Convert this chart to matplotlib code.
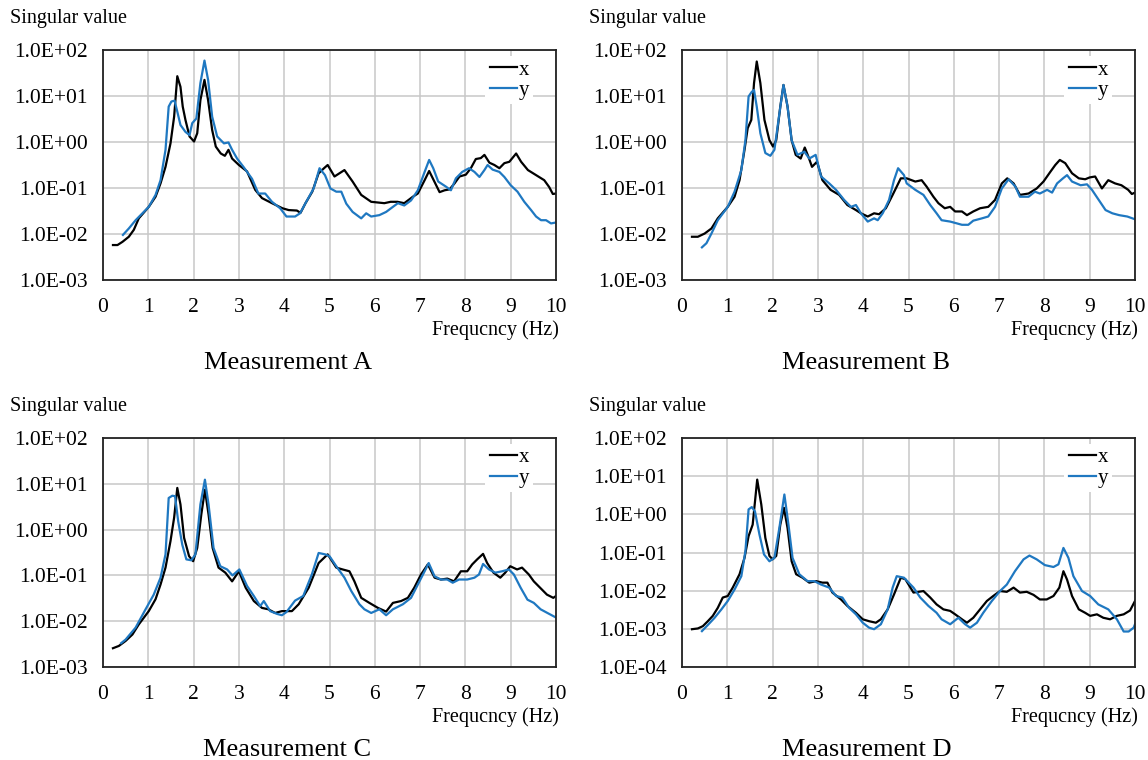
import numpy as np
import matplotlib
matplotlib.use('Agg')
import matplotlib.pyplot as plt
from matplotlib.ticker import FixedLocator, FuncFormatter

plt.rcParams['font.family'] = ['Liberation Serif', 'DejaVu Serif']

### data: frequency (Hz) and log10(singular value)

# Measurement A
a_x_f = [0.22, 0.32, 0.43, 0.57, 0.68, 0.79, 1.01, 1.16, 1.27, 1.38, 1.49, 1.57, 1.64, 1.71, 1.76, 1.82,
         1.91, 2.01, 2.08, 2.15, 2.24, 2.32, 2.41, 2.49, 2.60, 2.69, 2.77, 2.85, 3.00, 3.18, 3.36, 3.51,
         3.73, 3.96, 4.10, 4.28, 4.36, 4.47, 4.62, 4.76, 4.89, 4.96, 5.11, 5.33, 5.51, 5.70, 5.92, 6.21,
         6.35, 6.50, 6.65, 6.84, 6.95, 7.10, 7.20, 7.30, 7.43, 7.54, 7.65, 7.76, 7.87, 8.01, 8.12, 8.23,
         8.34, 8.42, 8.53, 8.64, 8.75, 8.86, 8.97, 9.12, 9.23, 9.38, 9.56, 9.74, 9.85, 9.93, 10.0]
a_x_v = [-2.24, -2.24, -2.17, -2.06, -1.91, -1.66, -1.41, -1.19, -0.90, -0.54, -0.03, 0.55, 1.43, 1.20, 0.77, 0.48,
         0.12, 0.01, 0.19, 0.91, 1.35, 0.91, 0.26, -0.10, -0.25, -0.30, -0.17, -0.36, -0.50, -0.64, -1.04, -1.22,
         -1.33, -1.44, -1.48, -1.49, -1.54, -1.33, -1.08, -0.68, -0.56, -0.50, -0.75, -0.61, -0.86, -1.15, -1.30, -1.33,
         -1.30, -1.30, -1.33, -1.19, -1.12, -0.83, -0.63, -0.83, -1.09, -1.05, -1.03, -0.90, -0.75, -0.71, -0.57, -0.37,
         -0.35, -0.28, -0.45, -0.50, -0.57, -0.46, -0.43, -0.25, -0.43, -0.61, -0.72, -0.83, -0.98, -1.13, -1.12]
a_y_f = [0.44, 0.57, 0.72, 0.87, 1.01, 1.16, 1.27, 1.38, 1.45, 1.51, 1.58, 1.64, 1.71, 1.82, 1.91, 1.97,
         2.06, 2.15, 2.24, 2.32, 2.41, 2.52, 2.67, 2.77, 2.85, 2.96, 3.10, 3.29, 3.43, 3.58, 3.73, 3.91,
         4.05, 4.24, 4.35, 4.47, 4.65, 4.78, 4.90, 5.02, 5.15, 5.26, 5.37, 5.51, 5.70, 5.81, 5.92, 6.10,
         6.25, 6.40, 6.51, 6.65, 6.80, 6.95, 7.10, 7.20, 7.29, 7.40, 7.57, 7.68, 7.79, 7.93, 8.08, 8.20,
         8.31, 8.42, 8.49, 8.60, 8.75, 8.86, 9.00, 9.15, 9.30, 9.45, 9.56, 9.67, 9.78, 9.89, 10.0]
a_y_v = [-2.02, -1.88, -1.70, -1.55, -1.41, -1.15, -0.83, -0.17, 0.77, 0.88, 0.90, 0.66, 0.37, 0.22, 0.15, 0.41,
         0.51, 1.28, 1.77, 1.35, 0.55, 0.12, -0.03, -0.01, -0.17, -0.36, -0.54, -0.80, -1.12, -1.12, -1.30, -1.44,
         -1.62, -1.62, -1.55, -1.33, -1.01, -0.57, -0.72, -1.01, -1.08, -1.08, -1.34, -1.52, -1.66, -1.55, -1.62, -1.59,
         -1.52, -1.41, -1.33, -1.38, -1.27, -1.05, -0.65, -0.39, -0.57, -0.86, -0.97, -1.05, -0.79, -0.65, -0.57, -0.65,
         -0.76, -0.61, -0.50, -0.60, -0.65, -0.76, -0.94, -1.08, -1.30, -1.48, -1.62, -1.70, -1.70, -1.77, -1.75]

# Measurement B
b_x_f = [0.22, 0.35, 0.50, 0.65, 0.79, 1.01, 1.16, 1.27, 1.38, 1.45, 1.53, 1.59, 1.65, 1.73, 1.82, 1.93,
         2.01, 2.08, 2.17, 2.24, 2.33, 2.42, 2.51, 2.62, 2.71, 2.79, 2.87, 2.98, 3.10, 3.28, 3.47, 3.65,
         3.84, 3.95, 4.10, 4.24, 4.35, 4.50, 4.65, 4.83, 4.96, 5.15, 5.29, 5.40, 5.55, 5.66, 5.80, 5.92,
         6.03, 6.18, 6.29, 6.43, 6.58, 6.76, 6.91, 7.06, 7.18, 7.32, 7.46, 7.65, 7.83, 7.98, 8.13, 8.24,
         8.34, 8.46, 8.61, 8.76, 8.90, 9.00, 9.12, 9.27, 9.41, 9.56, 9.70, 9.85, 9.93, 10.0]
b_x_v = [-2.06, -2.06, -1.99, -1.88, -1.66, -1.41, -1.19, -0.83, -0.17, 0.30, 0.48, 1.28, 1.75, 1.28, 0.48, 0.04,
         -0.10, 0.04, 0.77, 1.24, 0.77, 0.04, -0.28, -0.36, -0.12, -0.32, -0.54, -0.43, -0.83, -1.04, -1.15, -1.37,
         -1.48, -1.55, -1.62, -1.55, -1.57, -1.44, -1.15, -0.79, -0.79, -0.86, -0.83, -0.97, -1.19, -1.33, -1.44, -1.41,
         -1.51, -1.51, -1.59, -1.51, -1.44, -1.41, -1.26, -0.90, -0.79, -0.90, -1.15, -1.12, -1.01, -0.86, -0.65, -0.50,
         -0.39, -0.46, -0.68, -0.79, -0.81, -0.77, -0.75, -1.01, -0.83, -0.90, -0.94, -1.04, -1.13, -1.10]
b_y_f = [0.44, 0.54, 0.65, 0.79, 1.01, 1.16, 1.31, 1.40, 1.47, 1.54, 1.59, 1.65, 1.73, 1.84, 1.95, 2.04,
         2.15, 2.24, 2.33, 2.42, 2.55, 2.70, 2.81, 2.95, 3.07, 3.25, 3.40, 3.58, 3.73, 3.84, 3.95, 4.10,
         4.24, 4.32, 4.43, 4.57, 4.68, 4.77, 4.90, 4.96, 5.15, 5.33, 5.48, 5.62, 5.73, 5.92, 6.07, 6.18,
         6.32, 6.43, 6.62, 6.76, 6.91, 7.06, 7.21, 7.36, 7.46, 7.65, 7.79, 7.90, 8.06, 8.17, 8.28, 8.41,
         8.50, 8.61, 8.80, 8.94, 9.05, 9.20, 9.35, 9.50, 9.65, 9.83, 10.0]
b_y_v = [-2.29, -2.20, -1.99, -1.70, -1.41, -1.08, -0.61, 0.04, 0.99, 1.09, 1.13, 0.77, 0.19, -0.24, -0.30, -0.17,
         0.62, 1.24, 0.77, 0.04, -0.28, -0.21, -0.36, -0.28, -0.75, -0.90, -1.04, -1.26, -1.41, -1.37, -1.55, -1.73,
         -1.66, -1.70, -1.55, -1.26, -0.83, -0.57, -0.72, -0.90, -1.04, -1.15, -1.37, -1.55, -1.70, -1.73, -1.77, -1.80,
         -1.80, -1.71, -1.66, -1.62, -1.41, -1.01, -0.81, -0.97, -1.19, -1.19, -1.08, -1.12, -1.04, -1.10, -0.90, -0.79,
         -0.72, -0.86, -0.94, -0.92, -1.04, -1.26, -1.48, -1.55, -1.59, -1.62, -1.68]

# Measurement C
c_x_f = [0.22, 0.35, 0.50, 0.65, 0.79, 1.01, 1.16, 1.27, 1.38, 1.49, 1.57, 1.64, 1.71, 1.79, 1.90, 1.99,
         2.08, 2.17, 2.25, 2.33, 2.42, 2.55, 2.70, 2.85, 3.00, 3.15, 3.33, 3.51, 3.65, 3.80, 3.95, 4.17,
         4.32, 4.54, 4.76, 4.96, 5.15, 5.29, 5.44, 5.55, 5.70, 5.88, 6.07, 6.25, 6.40, 6.58, 6.73, 6.87,
         7.02, 7.17, 7.32, 7.46, 7.60, 7.75, 7.90, 8.04, 8.15, 8.26, 8.39, 8.48, 8.62, 8.77, 8.88, 8.99,
         9.14, 9.25, 9.40, 9.51, 9.65, 9.80, 9.94, 10.0]
c_x_v = [-2.59, -2.54, -2.43, -2.29, -2.07, -1.78, -1.52, -1.20, -0.83, -0.25, 0.26, 0.91, 0.55, -0.18, -0.58, -0.69,
         -0.40, 0.33, 0.87, 0.33, -0.40, -0.83, -0.94, -1.13, -0.91, -1.27, -1.56, -1.71, -1.74, -1.82, -1.78, -1.78,
         -1.63, -1.27, -0.73, -0.54, -0.83, -0.87, -0.91, -1.13, -1.49, -1.60, -1.71, -1.79, -1.60, -1.56, -1.49, -1.27,
         -0.98, -0.76, -1.05, -1.09, -1.07, -1.13, -0.91, -0.91, -0.76, -0.65, -0.53, -0.73, -0.94, -1.05, -0.94, -0.80,
         -0.87, -0.83, -0.98, -1.13, -1.27, -1.42, -1.49, -1.45]
c_y_f = [0.40, 0.50, 0.72, 0.94, 1.12, 1.27, 1.38, 1.45, 1.53, 1.59, 1.66, 1.75, 1.84, 1.95, 2.04, 2.15,
         2.25, 2.33, 2.44, 2.59, 2.74, 2.86, 3.01, 3.18, 3.33, 3.47, 3.55, 3.69, 3.84, 3.95, 4.05, 4.24,
         4.42, 4.61, 4.76, 4.90, 5.00, 5.15, 5.33, 5.48, 5.66, 5.77, 5.92, 6.10, 6.25, 6.40, 6.62, 6.80,
         6.95, 7.10, 7.19, 7.32, 7.46, 7.60, 7.72, 7.86, 8.04, 8.20, 8.30, 8.39, 8.52, 8.66, 8.81, 8.96,
         9.07, 9.22, 9.37, 9.51, 9.66, 9.81, 10.0]
c_y_v = [-2.48, -2.40, -2.14, -1.74, -1.42, -1.05, -0.54, 0.69, 0.74, 0.73, 0.18, -0.33, -0.65, -0.67, -0.54, 0.55,
         1.09, 0.55, -0.40, -0.80, -0.87, -1.00, -0.87, -1.23, -1.45, -1.67, -1.56, -1.78, -1.84, -1.87, -1.80, -1.55,
         -1.45, -0.98, -0.51, -0.54, -0.58, -0.80, -1.05, -1.34, -1.63, -1.74, -1.82, -1.74, -1.87, -1.74, -1.63, -1.49,
         -1.20, -0.91, -0.73, -1.02, -1.09, -1.09, -1.16, -1.09, -1.09, -1.05, -0.98, -0.75, -0.87, -0.94, -0.91, -0.87,
         -0.98, -1.27, -1.53, -1.60, -1.74, -1.82, -1.92]

# Measurement D
d_x_f = [0.22, 0.35, 0.46, 0.57, 0.68, 0.79, 0.90, 1.01, 1.12, 1.27, 1.38, 1.47, 1.56, 1.66, 1.75, 1.84,
         1.93, 2.00, 2.08, 2.17, 2.25, 2.33, 2.42, 2.52, 2.66, 2.81, 2.96, 3.10, 3.21, 3.32, 3.51, 3.65,
         3.84, 3.99, 4.13, 4.28, 4.39, 4.54, 4.68, 4.83, 4.93, 5.11, 5.33, 5.48, 5.62, 5.77, 5.92, 6.03,
         6.18, 6.29, 6.43, 6.58, 6.73, 6.87, 7.02, 7.17, 7.32, 7.46, 7.61, 7.76, 7.90, 8.05, 8.20, 8.33,
         8.42, 8.50, 8.61, 8.76, 8.90, 9.01, 9.16, 9.30, 9.45, 9.60, 9.75, 9.89, 10.0]
d_x_v = [-3.01, -2.99, -2.93, -2.80, -2.66, -2.45, -2.18, -2.14, -1.92, -1.57, -1.14, -0.57, -0.27, 0.91, 0.26, -0.62,
         -1.09, -1.18, -1.09, -0.27, 0.17, -0.36, -1.23, -1.57, -1.66, -1.79, -1.75, -1.79, -1.79, -2.05, -2.23, -2.40,
         -2.58, -2.75, -2.80, -2.84, -2.75, -2.49, -2.10, -1.66, -1.70, -2.05, -2.01, -2.18, -2.36, -2.49, -2.53, -2.62,
         -2.75, -2.84, -2.71, -2.49, -2.27, -2.14, -2.01, -2.03, -1.92, -2.05, -2.03, -2.11, -2.23, -2.23, -2.14, -1.92,
         -1.49, -1.71, -2.14, -2.49, -2.58, -2.66, -2.62, -2.71, -2.75, -2.66, -2.62, -2.52, -2.27]
d_y_f = [0.44, 0.57, 0.72, 0.87, 1.01, 1.16, 1.31, 1.40, 1.47, 1.54, 1.61, 1.71, 1.81, 1.93, 2.04, 2.15,
         2.26, 2.35, 2.44, 2.59, 2.77, 2.92, 3.07, 3.25, 3.40, 3.54, 3.69, 3.84, 3.99, 4.13, 4.24, 4.39,
         4.54, 4.65, 4.74, 4.90, 5.11, 5.26, 5.44, 5.62, 5.73, 5.92, 6.10, 6.25, 6.36, 6.51, 6.65, 6.84,
         7.02, 7.17, 7.35, 7.54, 7.67, 7.83, 8.01, 8.20, 8.31, 8.42, 8.53, 8.64, 8.83, 9.01, 9.19, 9.41,
         9.60, 9.75, 9.86, 9.97, 10.0]
d_y_v = [-3.06, -2.90, -2.71, -2.49, -2.27, -1.97, -1.62, -0.96, 0.13, 0.19, 0.08, -0.53, -1.05, -1.23, -1.14, -0.35,
         0.52, -0.27, -1.14, -1.57, -1.75, -1.75, -1.84, -1.92, -2.14, -2.18, -2.45, -2.62, -2.84, -2.97, -3.01, -2.88,
         -2.49, -1.92, -1.62, -1.66, -1.92, -2.18, -2.40, -2.58, -2.75, -2.88, -2.71, -2.88, -2.97, -2.84, -2.58, -2.27,
         -2.01, -1.84, -1.49, -1.18, -1.08, -1.18, -1.33, -1.38, -1.31, -0.88, -1.14, -1.62, -2.01, -2.14, -2.36, -2.49,
         -2.75, -3.07, -3.07, -2.97, -2.88]

panels = [
  ('Measurement A', a_x_f, a_x_v, a_y_f, a_y_v, -3),
  ('Measurement B', b_x_f, b_x_v, b_y_f, b_y_v, -3),
  ('Measurement C', c_x_f, c_x_v, c_y_f, c_y_v, -3),
  ('Measurement D', d_x_f, d_x_v, d_y_f, d_y_v, -4),
]

# axes boxes in pixels: left, top (from top of figure), height
W, H = 1148, 760
boxes = [(103, 50, 230), (682, 50, 230), (103, 438, 229), (682, 438, 229)]
axw = 453

BLUE = '#1f78c1'

def sci_fmt(v, pos):
  e = int(round(np.log10(v)))
  sign = '+' if e >= 0 else '-'
  return '1.0E%s%02d' % (sign, abs(e))

fig = plt.figure(figsize=(W / 100, H / 100), dpi=100)

for (title, xf, xv, yf, yv, lo), (left, top, hgt) in zip(panels, boxes):
  ax = fig.add_axes([left / W, (H - top - hgt) / H, axw / W, hgt / H])
  ax.plot(xf, 10 ** np.array(xv), color='black', lw=1.6, label='x')
  ax.plot(yf, 10 ** np.array(yv), color=BLUE, lw=1.6, label='y')
  ax.set_yscale('log')
  ax.set_xlim(0, 10)
  ax.set_ylim(10.0 ** lo, 100)
  ax.xaxis.set_major_locator(FixedLocator(range(0, 11)))
  ax.yaxis.set_major_locator(FixedLocator([10.0 ** k for k in range(lo, 3)]))
  ax.yaxis.set_minor_locator(FixedLocator([]))
  ax.yaxis.set_major_formatter(FuncFormatter(sci_fmt))
  ax.grid(True, color='#c8c8c8', lw=1.1)
  ax.set_axisbelow(True)
  ax.tick_params(length=0, labelsize=15.5)
  ax.tick_params(axis='x', pad=13)
  ax.tick_params(axis='y', pad=11)
  for s in ax.spines.values():
    s.set_color('#222222')
    s.set_linewidth(1.3)
  leg = ax.legend(loc='upper right', bbox_to_anchor=(0.95, 0.975), fontsize=15,
                  frameon=True, fancybox=False, handlelength=1.3, handletextpad=0.1,
                  labelspacing=0.05, borderpad=0.2, borderaxespad=0)
  leg.get_frame().set_edgecolor('none')
  leg.get_frame().set_facecolor('white')
  leg.get_frame().set_alpha(1)

  fig.text((left - 93) / W, 1 - (top - 32) / H, 'Singular value', fontsize=14.5,
           ha='left', va='center')
  fig.text((left + axw + 3) / W, 1 - (top + hgt + 50) / H, 'Frequcncy (Hz)', fontsize=14.5,
           ha='right', va='center')
  fig.text((left + axw / 2 - 42) / W, 1 - (top + hgt + 83) / H, title, fontsize=19,
           ha='center', va='center')

plt.savefig('out.png', dpi=100)
